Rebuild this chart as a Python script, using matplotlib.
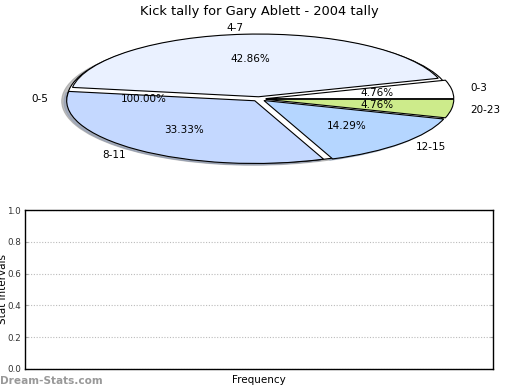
import matplotlib
matplotlib.use("Agg")
import matplotlib.pyplot as plt

# Data
base_labels = ['0-5']
base_values = [1]
labels = ['0-3', '4-7', '8-11', '12-15', '20-23']
values = [1, 9, 7, 3, 1]
colors = ['#ffffff', '#eaf1ff', '#c4d8ff', '#b5d6ff', '#cdeb8b']
title = 'Kick tally for Gary Ablett - 2004 tally'
yticks = [0.0, 0.2, 0.4, 0.6, 0.8, 1.0]

W, H = 520, 390
fig = plt.figure(figsize=(5.2, 3.9), dpi=100)

# Pie axes (stretched, not equal aspect)
ax1 = fig.add_axes([25 / W, 1 - 179 / H, 468 / W, 160 / H])
# underlying whole pie
ax1.pie(base_values, labels=base_labels, colors=['#ffffff'],
        shadow=dict(ox=-0.02, oy=-0.025, shade=0.4, alpha=0.6),
        startangle=0, autopct='%.2f%%', pctdistance=0.6, labeldistance=1.1,
        wedgeprops=dict(edgecolor='black', linewidth=0.8),
        textprops=dict(fontsize=7.5, color='black'))
# exploded pie on top
ax1.pie(values, labels=labels, colors=colors, explode=[0.035] * len(values),
        radius=0.98,
        shadow=dict(ox=-0.01, oy=-0.015, shade=0.3, alpha=0.5),
        startangle=0, counterclock=True,
        autopct='%.2f%%', pctdistance=0.6, labeldistance=1.1,
        wedgeprops=dict(edgecolor='black', linewidth=0.8),
        textprops=dict(fontsize=7.5, color='black'))
ax1.set_aspect('auto')
ax1.set_xlim(-1.219, 1.219)
ax1.set_ylim(-1.25, 1.25)
ax1.set_title(title, fontsize=9.4, pad=3)

# Bottom empty axes
ax2 = fig.add_axes([25 / W, 1 - 369 / H, 468 / W, 159 / H])
ax2.set_ylim(0, 1)
ax2.set_xlim(0, 1)
ax2.set_yticks(yticks)
ax2.set_yticklabels([f'{v:.1f}' for v in yticks], fontsize=6.3, color='#333333')
ax2.set_xticks([])
ax2.tick_params(axis='y', direction='in', length=2, color='#aaaaaa', right=True, pad=3)
ax2.yaxis.grid(True, linestyle=(0, (1, 1.5)), color='#bbbbbb', linewidth=0.8)
ax2.set_axisbelow(True)
for s in ax2.spines.values():
    s.set_linewidth(1.0)
ax2.set_xlabel('Frequency', fontsize=7.5, labelpad=4)
ax2.set_ylabel('Stat Intervals', fontsize=7.5)
ax2.yaxis.set_label_coords(-0.036, 0.5)

fig.text(0.0, 1 - 381 / H, 'Dream-Stats.com', fontsize=7.6, color='#999999',
         ha='left', va='center', fontweight='bold')

fig.savefig('out.png', dpi=100)
